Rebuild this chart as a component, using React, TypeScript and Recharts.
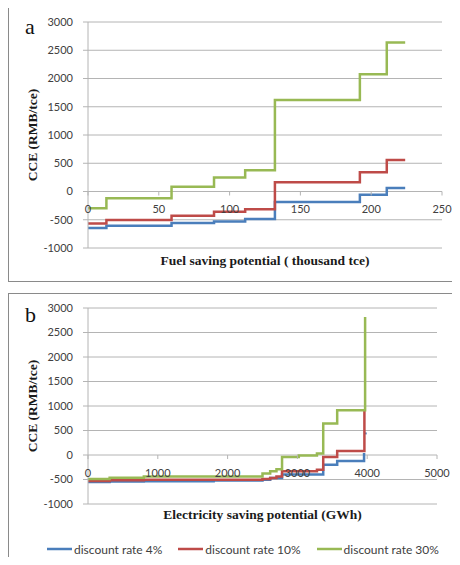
import { LineChart, Line, XAxis, YAxis, CartesianGrid, Legend } from 'recharts'

// Panel a: fuel saving supply curve (x in thousand tce, CCE in RMB/tce)
const FUEL_X = [0, 13, 59, 89, 111, 132, 192, 211, 224]
const FUEL_CCE_4 = [-645, -605, -557, -530, -487, -187, -58, 60, 60]
const FUEL_CCE_10 = [-565, -503, -430, -360, -315, 165, 340, 559, 559]
const FUEL_CCE_30 = [-296, -120, 85, 250, 375, 1618, 2076, 2636, 2636]
const FUEL_TICKS = [0, 50, 100, 150, 200, 250]

// Panel b: electricity saving supply curve (x in GWh)
const ELEC_X_4 = [0, 310, 800, 1800, 2500, 2610, 2780, 3370, 3570, 3955]
const ELEC_CCE_4 = [-550, -540, -535, -520, -505, -470, -400, -200, -120, 40]
const ELEC_X_4_TAIL = [3975, 3975]
const ELEC_CCE_4_TAIL = [420, 460]
const ELEC_X_10 = [0, 310, 800, 2500, 2610, 2700, 2780, 3280, 3370, 3570, 3960]
const ELEC_CCE_10 = [-530, -515, -505, -490, -470, -440, -330, -300, -40, 80, 900]
const ELEC_X_30 = [0, 310, 800, 2500, 2610, 2700, 2780, 3020, 3280, 3370, 3570, 3970]
const ELEC_CCE_30 = [-490, -465, -440, -380, -330, -290, -40, -10, 30, 645, 915, 2815]
const ELEC_TICKS = [0, 1000, 2000, 3000, 4000, 5000]

const CCE_TICKS = [-1000, -500, 0, 500, 1000, 1500, 2000, 2500, 3000]
const Y_MIN = -1000
const Y_MAX = 3000

const SERIES_NAMES = ['discount rate 4%', 'discount rate 10%', 'discount rate 30%']
const BLUE = '#4a7ebb'
const RED = '#be4b48'
const GREEN = '#98b954'
const GRID = '#b4b4b4'
const TEXT = '#404040'
const SANS = 'Lato, "Liberation Sans", sans-serif'
const SERIF = '"Liberation Serif", "Times New Roman", serif'

const toPoints = (xs: number[], ys: number[]) => xs.map((x, i) => ({ x, cce: ys[i] }))

// x axis sits on the CCE = 0 line, so ticks are shifted up from the plot bottom
function makeZeroTick(plotHeight: number) {
  const shift = (plotHeight * (0 - Y_MIN)) / (Y_MAX - Y_MIN)
  return (props: any) => {
    const { x, y, payload } = props
    const y0 = y - shift
    return (
      <g>
        <line x1={x} x2={x} y1={y0} y2={y0 + 4} stroke={GRID} />
        <text
          x={x}
          y={y0 + 17}
          textAnchor="middle"
          dominantBaseline="central"
          fill={TEXT}
          fontSize={11}
          fontFamily={SANS}
        >
          {payload.value}
        </text>
      </g>
    )
  }
}

const yAxisProps = {
  domain: [Y_MIN, Y_MAX] as [number, number],
  ticks: CCE_TICKS,
  interval: 0 as const,
  width: 88,
  axisLine: { stroke: GRID },
  tickLine: { stroke: GRID },
  tickSize: 5,
  tickMargin: 10,
  tick: { fill: TEXT, fontSize: 11, fontFamily: SANS },
  label: {
    value: 'CCE (RMB/tce)',
    angle: -90,
    position: 'insideLeft' as const,
    offset: 32,
    style: { textAnchor: 'middle', fontFamily: SERIF, fontWeight: 700, fontSize: 13.5, fill: '#1a1a1a' },
  },
}

const xLabelStyle = { fontFamily: SERIF, fontWeight: 700, fontSize: 13.5, fill: '#1a1a1a' }

function LegendRow({ payload }: any) {
  const items = (payload || [])
    .filter((entry: any) => SERIES_NAMES.includes(entry.value))
    .sort((a: any, b: any) => SERIES_NAMES.indexOf(a.value) - SERIES_NAMES.indexOf(b.value))
  return (
    <div
      style={{ display: 'flex', alignItems: 'center', height: 20, whiteSpace: 'nowrap', fontFamily: SANS, fontSize: 12, color: TEXT }}
    >
      {items.map((entry: any) => (
        <div key={entry.value} style={{ display: 'flex', alignItems: 'center', marginRight: 16 }}>
          <svg width={25} height={6} style={{ marginRight: 2 }}>
            <line x1={0} x2={25} y1={3} y2={3} stroke={entry.color} strokeWidth={2.5} />
          </svg>
          <span>{entry.value}</span>
        </div>
      ))}
    </div>
  )
}

const PLOT_H_A = 226
const PLOT_H_B = 196

export default function App() {
  return (
    <div style={{ position: 'relative', margin: -8, width: 460, height: 565, overflow: 'hidden', background: '#fff' }}>
      <div
        style={{ position: 'absolute', left: 8, top: 7, width: 460, height: 275, border: '1px solid #8a8a8a', boxSizing: 'border-box' }}
      />
      <div
        style={{ position: 'absolute', left: 8, top: 293, width: 460, height: 290, border: '1px solid #8a8a8a', boxSizing: 'border-box' }}
      />

      <div style={{ position: 'absolute', left: 0, top: 0 }}>
        <LineChart width={460} height={285} margin={{ top: 22, right: 18, bottom: 0, left: 0 }}>
          <CartesianGrid vertical={false} stroke={GRID} />
          <XAxis
            dataKey="x"
            type="number"
            domain={[0, 250]}
            ticks={FUEL_TICKS}
            interval={0}
            height={37}
            axisLine={false}
            tickLine={false}
            tickSize={0}
            tickMargin={0}
            tick={makeZeroTick(PLOT_H_A)}
            label={{ value: 'Fuel saving potential ( thousand tce)', position: 'insideTop', offset: 7, style: xLabelStyle }}
          />
          <YAxis {...yAxisProps} />
          <Line data={toPoints(FUEL_X, FUEL_CCE_4)} dataKey="cce" type="stepAfter" stroke={BLUE} strokeWidth={2.5} dot={false} isAnimationActive={false} name={SERIES_NAMES[0]} />
          <Line data={toPoints(FUEL_X, FUEL_CCE_10)} dataKey="cce" type="stepAfter" stroke={RED} strokeWidth={2.5} dot={false} isAnimationActive={false} name={SERIES_NAMES[1]} />
          <Line data={toPoints(FUEL_X, FUEL_CCE_30)} dataKey="cce" type="stepAfter" stroke={GREEN} strokeWidth={2.5} dot={false} isAnimationActive={false} name={SERIES_NAMES[2]} />
        </LineChart>
      </div>

      <div style={{ position: 'absolute', left: 0, top: 285 }}>
        <LineChart width={460} height={280} margin={{ top: 23, right: 23, bottom: 6, left: 0 }}>
          <CartesianGrid vertical={false} stroke={GRID} />
          <XAxis
            dataKey="x"
            type="number"
            domain={[0, 5000]}
            ticks={ELEC_TICKS}
            interval={0}
            height={35}
            axisLine={false}
            tickLine={false}
            tickSize={0}
            tickMargin={0}
            tick={makeZeroTick(PLOT_H_B)}
            label={{ value: 'Electricity saving potential (GWh)', position: 'insideTop', offset: 5, style: xLabelStyle }}
          />
          <YAxis {...yAxisProps} />
          <Legend verticalAlign="bottom" height={20} content={LegendRow} wrapperStyle={{ left: 47, width: 413 }} />
          <Line data={toPoints(ELEC_X_4, ELEC_CCE_4)} dataKey="cce" type="stepAfter" stroke={BLUE} strokeWidth={2.5} dot={false} isAnimationActive={false} name={SERIES_NAMES[0]} />
          <Line data={toPoints(ELEC_X_4_TAIL, ELEC_CCE_4_TAIL)} dataKey="cce" type="linear" stroke={BLUE} strokeWidth={2.5} dot={false} isAnimationActive={false} legendType="none" name="tail" />
          <Line data={toPoints(ELEC_X_10, ELEC_CCE_10)} dataKey="cce" type="stepAfter" stroke={RED} strokeWidth={2.5} dot={false} isAnimationActive={false} name={SERIES_NAMES[1]} />
          <Line data={toPoints(ELEC_X_30, ELEC_CCE_30)} dataKey="cce" type="stepAfter" stroke={GREEN} strokeWidth={2.5} dot={false} isAnimationActive={false} name={SERIES_NAMES[2]} />
        </LineChart>
      </div>

      <svg width={60} height={565} style={{ position: 'absolute', left: 0, top: 0 }}>
        <text x={25} y={33.5} fontFamily={SERIF} fontSize={22} fill="#111">a</text>
        <text x={25} y={321.5} fontFamily={SERIF} fontSize={22} fill="#111">b</text>
      </svg>
    </div>
  )
}
